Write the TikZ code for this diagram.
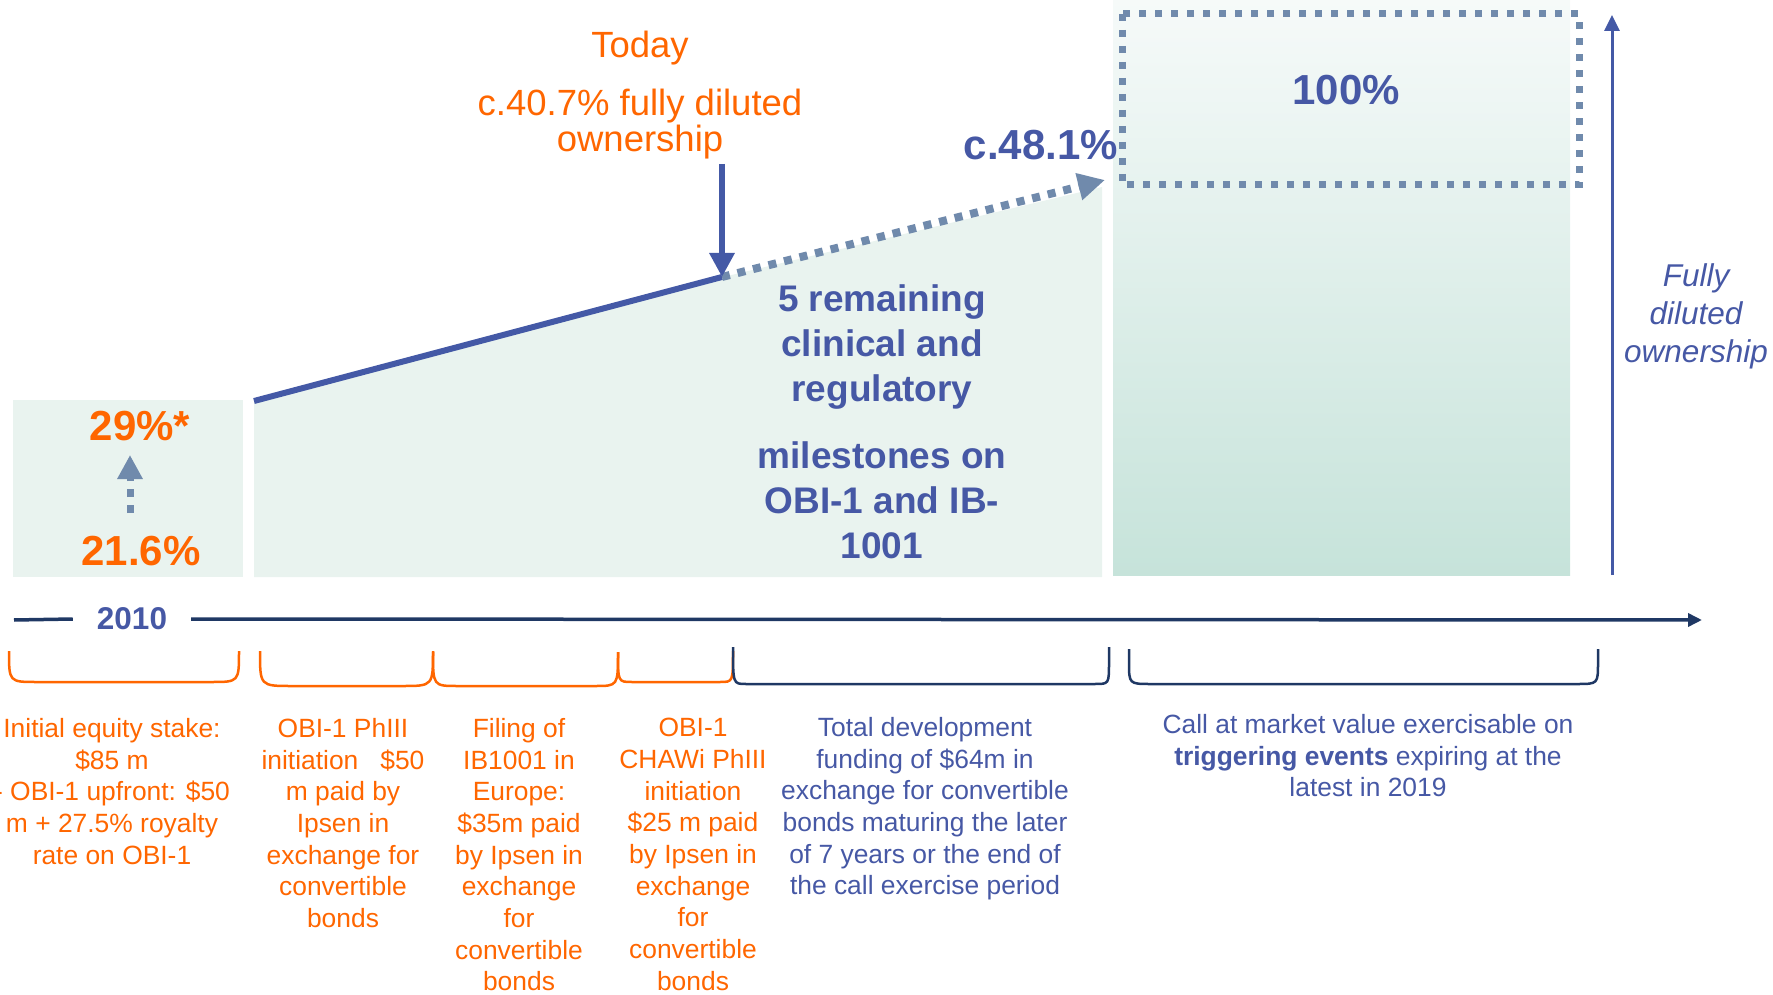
\documentclass[tikz,border=0pt]{standalone}
\usepackage{fontspec}
\setmainfont{Liberation Sans}
\usetikzlibrary{arrows.meta}
\definecolor{ora}{RGB}{255,102,0}
\definecolor{txtblue}{RGB}{70,88,165}
\definecolor{navy}{RGB}{31,56,100}
\definecolor{steel}{RGB}{112,138,172}
\definecolor{mint}{RGB}{233,243,239}
\definecolor{minttop}{RGB}{246,250,249}
\definecolor{mintbot}{RGB}{198,227,218}
\definecolor{arrowblue}{RGB}{68,89,166}
\begin{document}
\begin{tikzpicture}[x=1pt,y=-1pt,
  bracketline/.style={line width=2.5pt},
  smalltxt/.style={inner sep=0pt, align=center, anchor=north, font=\fontsize{26.4}{31.7}\selectfont},
  oratxt/.style={smalltxt, text=ora},
  bluetxt/.style={smalltxt, text=txtblue},
  bigbold/.style={font=\fontsize{42}{48}\selectfont\bfseries, inner sep=0pt},
  midbold/.style={font=\fontsize{37}{45}\selectfont\bfseries, text=txtblue, align=center, inner sep=0pt},
  dotline/.style={steel, line width=8pt, dash pattern=on 8pt off 8pt}
]
\useasboundingbox (0,0) rectangle (1773,995);

% background regions
\fill[mint] (13,400) rectangle (243,577);
\fill[mint] (254,577) -- (254,401) -- (723,277) -- (1102,187) -- (1102,577) -- cycle;
\fill[top color=minttop,bottom color=mintbot] (1113,0) rectangle (1570,575);

% dotted 100% box
\draw[steel, line width=7pt, dash pattern=on 7pt off 9pt] (1122,14) rectangle (1579,185);

% coordinates
\coordinate (lineStart) at (254,401);
\coordinate (today) at (722,277);
\coordinate (todaytop) at (722,164);
\coordinate (c48tip) at (1105,180);
\coordinate (a216) at (130,513);
\coordinate (a29) at (130,455);
\coordinate (fb) at (1612,575);
\coordinate (ft) at (1612,15);
\coordinate (tl0) at (14,620);
\coordinate (tlend) at (1702,620);

% ownership lines
\draw[arrowblue, line width=6pt] (lineStart) -- (today);
\draw[dotline, -{Triangle[length=27pt,width=26pt]}] (today) -- (c48tip);
\draw[arrowblue, line width=6pt, -{Triangle[length=24pt,width=24pt]}] (todaytop) -- (today);
\draw[steel, line width=7pt, dash pattern=on 8pt off 8pt, -{Triangle[length=24pt,width=24pt]}] (a216) -- (a29);
\draw[arrowblue, line width=3pt, -{Triangle[length=16pt,width=15pt]}] (fb) -- (ft);

% top labels
\node[text=ora, font=\fontsize{36.5}{36}\selectfont, inner sep=0pt] (todaylbl) at (640,48.5) {Today};
\node[text=ora, font=\fontsize{36.5}{36}\selectfont, align=center, inner sep=0pt] (fdlbl) at (640,124.5) {c.40.7\% fully diluted\\ownership};
\node[bigbold, text=txtblue] (c48) at (1041,145) {c.48.1\%};
\node[bigbold, text=txtblue] (full) at (1346,90) {100\%};
\node[bigbold, text=ora] (p29) at (140,426) {29\%*};
\node[bigbold, text=ora] (p216) at (141,551) {21.6\%};
\node[midbold] (rem) at (882,347) {5 remaining\\clinical and\\regulatory};
\node[midbold] (mil) at (882,500) {milestones on\\OBI-1 and IB-\\1001};
\node[text=txtblue, font=\fontsize{31.5}{38}\selectfont\itshape, align=center, inner sep=0pt] (fdo) at (1696,316) {Fully\\diluted\\ownership};

% timeline
\node[text=txtblue, font=\fontsize{31.5}{36}\selectfont\bfseries, inner xsep=24pt, inner ysep=0pt] (y2010) at (132,619) {2010};
\draw[navy, line width=3.5pt] (tl0) -- (y2010.west);
\draw[navy, line width=3.5pt, -{Triangle[length=14pt,width=13pt]}] (y2010.east) -- (tlend);

% brackets
\draw[ora, bracketline] (9,651) .. controls (9,682) .. (37,682) -- (211,682) .. controls (239,682) .. (239,651);
\draw[ora, bracketline] (260,651) .. controls (260,686) .. (292,686) -- (402,686) .. controls (433,686) .. (433,651);
\draw[ora, bracketline] (433,652) .. controls (433,686) .. (458,686) -- (595,686) .. controls (618,686) .. (618,652);
\draw[ora, bracketline] (618,652) .. controls (618,682) .. (632,682) -- (720,682) .. controls (733,682) .. (733,651);
\draw[navy, bracketline] (733,647) .. controls (733,684) .. (746,684) -- (1095,684) .. controls (1109,684) .. (1109,662) -- (1109,647);
\draw[navy, bracketline] (1129,649) -- (1129,662) .. controls (1129,684) .. (1151,684) -- (1577,684) .. controls (1598,684) .. (1598,662) -- (1598,649);

% bottom texts
\node[oratxt] (t1) at (112,718) {Initial equity stake:\\\$85 m\\- OBI-1 upfront: \$50\\m + 27.5\% royalty\\rate on OBI-1};
\node[oratxt] (t2) at (343,718) {OBI-1 PhIII\\initiation\ \ \ \$50\\m paid by\\Ipsen in\\exchange for\\convertible\\bonds};
\node[oratxt] (t3) at (519,718) {Filing of\\IB1001 in\\Europe:\\\$35m paid\\by Ipsen in\\exchange\\for\\convertible\\bonds};
\node[oratxt] (t4) at (693,718) {OBI-1\\CHAWi PhIII\\initiation\\\$25 m paid\\by Ipsen in\\exchange\\for\\convertible\\bonds};
\node[bluetxt] (t5) at (925,717) {Total development\\funding of \$64m in\\exchange for convertible\\bonds maturing the later\\of 7 years or the end of\\the call exercise period};
\node[bluetxt] (t6) at (1368,714) {Call at market value exercisable on\\\textbf{triggering events} expiring at the\\latest in 2019};
\end{tikzpicture}
\end{document}
